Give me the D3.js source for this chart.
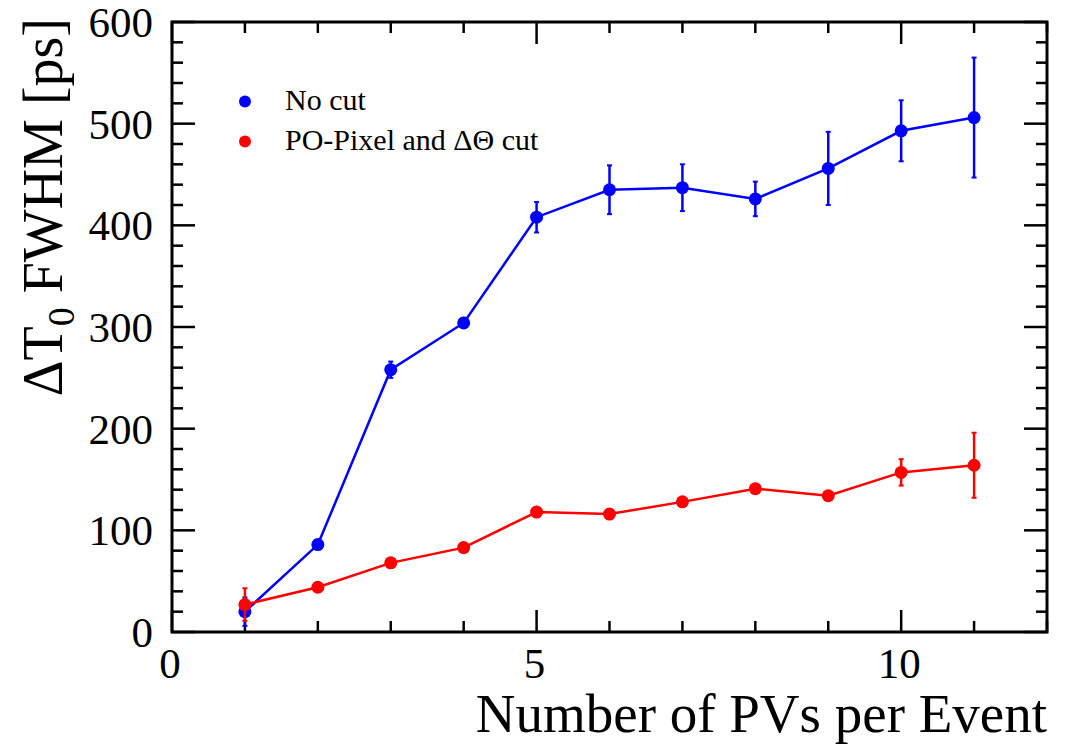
<!DOCTYPE html>
<html>
<head>
<meta charset="utf-8">
<script src="https://cdn.jsdelivr.net/npm/d3@7"></script>
<style>
  body { margin: 0; background: #fff; }
  text { font-family: "Liberation Serif", "Times New Roman", serif; fill: #000; }
</style>
</head>
<body>
<div id="chart-container"></div>
<script>
// data
const pvCounts = [1, 2, 3, 4, 5, 6, 7, 8, 9, 10, 11];
const noCutValues = [20, 86, 258, 304, 408, 435, 437, 426, 456, 493, 506];
const noCutErrors = [14, 3, 8, 5, 15, 24, 23, 17, 36, 30, 59];
const cutValues = [27, 44, 68, 83, 118, 116, 128, 141, 134, 157, 164];
const cutErrors = [16, 3, 3, 3, 3, 3, 3, 3, 3, 13, 32];
const xTicks = [0, 5, 10];
const yTicks = [0, 100, 200, 300, 400, 500, 600];

const svgWidth = 1079;
const svgHeight = 748;
const margin = { top: 22, right: 32, bottom: 116, left: 172 };

const svg = d3
  .select("#chart-container")
  .append("svg")
  .attr("width", svgWidth)
  .attr("height", svgHeight);

const x = d3.scaleLinear().domain([0, 12]).range([margin.left, svgWidth - margin.right]);
const y = d3.scaleLinear().domain([0, 600]).range([svgHeight - margin.bottom, margin.top]);

const series = [
  { name: "No cut", color: "#0000ff", values: noCutValues, errors: noCutErrors },
  { name: "PO-Pixel and \u0394\u0398 cut", color: "#ff0000", values: cutValues, errors: cutErrors },
];

// frame
svg
  .append("rect")
  .attr("x", x(0))
  .attr("y", y(600))
  .attr("width", x(12) - x(0))
  .attr("height", y(0) - y(600))
  .attr("fill", "none")
  .attr("stroke", "#000")
  .attr("stroke-width", 3);

// ticks on all four sides, pointing inward
const xMinor = d3.range(0, 12.01, 1);
const yMinor = d3.range(0, 600.1, 20);
xMinor.forEach((v) => {
  const len = v % 5 === 0 ? 22 : 11;
  svg.append("line").attr("x1", x(v)).attr("x2", x(v)).attr("y1", y(0)).attr("y2", y(0) - len)
    .attr("stroke", "#000").attr("stroke-width", 2.5);
  svg.append("line").attr("x1", x(v)).attr("x2", x(v)).attr("y1", y(600)).attr("y2", y(600) + len)
    .attr("stroke", "#000").attr("stroke-width", 2.5);
});
yMinor.forEach((v) => {
  const len = v % 100 === 0 ? 23 : 11;
  svg.append("line").attr("x1", x(0)).attr("x2", x(0) + len).attr("y1", y(v)).attr("y2", y(v))
    .attr("stroke", "#000").attr("stroke-width", 2.5);
  svg.append("line").attr("x1", x(12)).attr("x2", x(12) - len).attr("y1", y(v)).attr("y2", y(v))
    .attr("stroke", "#000").attr("stroke-width", 2.5);
});

// tick labels
svg
  .selectAll(".x-label")
  .data(xTicks)
  .enter()
  .append("text")
  .attr("class", "x-label")
  .attr("x", (d) => x(d) - 2)
  .attr("y", y(0) + 46)
  .attr("text-anchor", "middle")
  .attr("font-size", "43px")
  .text((d) => d);

svg
  .selectAll(".y-label")
  .data(yTicks)
  .enter()
  .append("text")
  .attr("class", "y-label")
  .attr("x", x(0) - 19)
  .attr("y", (d) => y(d) + 15)
  .attr("text-anchor", "end")
  .attr("font-size", "43px")
  .text((d) => d);

// axis titles
svg
  .append("text")
  .attr("x", x(12))
  .attr("y", 732)
  .attr("text-anchor", "end")
  .attr("font-size", "55px")
  .text("Number of PVs per Event");

const yTitle = svg
  .append("text")
  .attr("transform", `translate(62, ${y(600) - 4}) rotate(-90)`)
  .attr("text-anchor", "end")
  .attr("font-size", "56px");
yTitle.append("tspan").text("\u0394T");
yTitle.append("tspan").attr("font-size", "38px").attr("dy", 12).text("0");
yTitle.append("tspan").attr("dy", -12).text(" FWHM [ps]");

// series
const line = d3
  .line()
  .x((d, i) => x(pvCounts[i]))
  .y((d) => y(d));

series.forEach((s) => {
  const g = svg.append("g");

  g.append("path")
    .datum(s.values)
    .attr("fill", "none")
    .attr("stroke", s.color)
    .attr("stroke-width", 2.5)
    .attr("d", line);

  g.selectAll(".err")
    .data(s.values)
    .enter()
    .append("line")
    .attr("x1", (d, i) => x(pvCounts[i]))
    .attr("x2", (d, i) => x(pvCounts[i]))
    .attr("y1", (d, i) => y(d - s.errors[i]))
    .attr("y2", (d, i) => y(d + s.errors[i]))
    .attr("stroke", s.color)
    .attr("stroke-width", 2.5);

  // small end caps
  ["-", "+"].forEach((sign) => {
    g.selectAll(".cap" + (sign === "+" ? "p" : "m"))
      .data(s.values)
      .enter()
      .append("line")
      .attr("x1", (d, i) => x(pvCounts[i]) - 2.5)
      .attr("x2", (d, i) => x(pvCounts[i]) + 2.5)
      .attr("y1", (d, i) => y(sign === "+" ? d + s.errors[i] : d - s.errors[i]))
      .attr("y2", (d, i) => y(sign === "+" ? d + s.errors[i] : d - s.errors[i]))
      .attr("stroke", s.color)
      .attr("stroke-width", 2);
  });

  g.selectAll("circle")
    .data(s.values)
    .enter()
    .append("circle")
    .attr("cx", (d, i) => x(pvCounts[i]))
    .attr("cy", (d) => y(d))
    .attr("r", 6.5)
    .attr("fill", s.color);
});

// legend
const legend = svg.append("g");
series.forEach((s, i) => {
  legend.append("circle")
    .attr("cx", 245)
    .attr("cy", 101.5 + i * 40)
    .attr("r", 6)
    .attr("fill", s.color);
  legend.append("text")
    .attr("x", 285)
    .attr("y", 110 + i * 39.5)
    .attr("font-size", "30px")
    .text(s.name);
});
</script>
</body>
</html>
